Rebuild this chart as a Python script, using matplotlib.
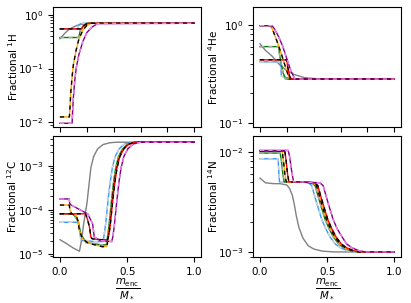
import matplotlib
matplotlib.use("Agg")
import matplotlib.pyplot as plt

plt.rcParams['font.family'] = ['DejaVu Sans']
plt.rcParams['font.size'] = 7.5

models = ["gray", "blue", "green", "orange", "red", "purple"]
solid_colors = ["grey", "#3399ff", "green", "orange", "red", "purple"]
dash_colors = [None, "lightgray", "darkgray", "black", "black", "violet"]

# ---------------- 1H ----------------
h1_x_gray = [0, 0.03, 0.06, 0.09, 0.12, 0.16, 0.2, 0.25, 1.0]
h1_y_gray = [0.36, 0.44, 0.52, 0.58, 0.63, 0.67, 0.69, 0.70, 0.70]
h1_x_blue = [0, 0.13, 0.135, 0.15, 0.17, 1.0]
h1_y_blue = [0.55, 0.55, 0.64, 0.68, 0.70, 0.70]
h1_x_green = [0, 0.14, 0.15, 0.17, 0.2, 1.0]
h1_y_green = [0.38, 0.38, 0.50, 0.62, 0.70, 0.70]
h1_x_orange = [0, 0.07, 0.075, 0.08, 0.09, 0.10, 0.12, 0.14, 0.17, 0.2, 0.23, 1.0]
h1_y_orange = [0.0125, 0.0125, 0.02, 0.035, 0.07, 0.12, 0.22, 0.35, 0.52, 0.64, 0.70, 0.70]
h1_x_red = [0, 0.16, 0.17, 0.19, 0.21, 1.0]
h1_y_red = [0.55, 0.55, 0.60, 0.67, 0.70, 0.70]
h1_x_purple = [0, 0.09, 0.095, 0.10, 0.11, 0.12, 0.14, 0.17, 0.2, 0.24, 0.28, 1.0]
h1_y_purple = [0.0095, 0.0095, 0.018, 0.03, 0.06, 0.1, 0.18, 0.32, 0.47, 0.6, 0.69, 0.70]

# ---------------- 4He ----------------
he_x_gray = [0, 0.04, 0.09, 0.14, 0.2, 0.26, 0.33, 0.45, 1.0]
he_y_gray = [0.64, 0.55, 0.48, 0.40, 0.34, 0.31, 0.29, 0.28, 0.28]
he_x_blue = [0, 0.15, 0.16, 0.2, 0.25, 1.0]
he_y_blue = [0.42, 0.42, 0.30, 0.29, 0.28, 0.28]
he_x_green = [0, 0.14, 0.145, 0.17, 0.19, 1.0]
he_y_green = [0.60, 0.60, 0.50, 0.33, 0.28, 0.28]
he_x_orange = [0, 0.08, 0.1, 0.13, 0.16, 0.19, 0.22, 1.0]
he_y_orange = [0.98, 0.98, 0.85, 0.66, 0.5, 0.37, 0.28, 0.28]
he_x_red = [0, 0.20, 0.205, 0.22, 0.23, 1.0]
he_y_red = [0.44, 0.44, 0.38, 0.30, 0.28, 0.28]
he_x_purple = [0, 0.09, 0.11, 0.14, 0.17, 0.2, 0.23, 0.26, 1.0]
he_y_purple = [0.98, 0.98, 0.90, 0.75, 0.6, 0.45, 0.34, 0.28, 0.28]

# ---------------- 12C ----------------
c_x_gray = [0, 0.05, 0.1, 0.145, 0.16, 0.175, 0.19, 0.2, 0.215, 0.23, 0.25, 0.28, 0.32, 0.37, 0.42, 1.0]
c_y_gray = [2.1e-5, 1.7e-5, 1.35e-5, 1.15e-5, 2.0e-5, 4.5e-5, 9e-5, 1.35e-4, 3.5e-4, 9e-4, 1.6e-3, 2.4e-3, 3.0e-3, 3.3e-3, 3.4e-3, 3.4e-3]
c_x_blue = [0, 0.14, 0.145, 0.155, 0.2, 0.25, 0.32, 0.33, 0.34, 0.35, 0.36, 0.375, 0.39, 0.41, 0.44, 0.48, 0.53, 1.0]
c_y_blue = [5.2e-5, 5.2e-5, 4.0e-5, 2.0e-5, 2.0e-5, 1.9e-5, 1.9e-5, 2.8e-5, 4.8e-5, 9.5e-5, 1.9e-4, 4.5e-4, 9e-4, 1.6e-3, 2.4e-3, 3.1e-3, 3.4e-3, 3.4e-3]
c_x_green = [0, 0.094, 0.11, 0.131, 0.156, 0.194, 0.25, 0.31, 0.345, 0.355, 0.365, 0.375, 0.385, 0.40, 0.415, 0.435, 0.465, 0.505, 0.555, 1.0]
c_y_green = [8.1e-5, 8.1e-5, 7.2e-5, 5.7e-5, 2.8e-5, 1.8e-5, 1.7e-5, 1.6e-5, 1.6e-5, 2.6e-5, 4.5e-5, 9e-5, 1.8e-4, 4.5e-4, 9e-4, 1.6e-3, 2.4e-3, 3.1e-3, 3.4e-3, 3.4e-3]
c_x_orange = [0, 0.069, 0.075, 0.087, 0.12, 0.135, 0.144, 0.168, 0.205, 0.26, 0.317, 0.35, 0.36, 0.37, 0.38, 0.39, 0.405, 0.42, 0.44, 0.47, 0.51, 0.56, 1.0]
c_y_orange = [1.28e-4, 1.28e-4, 9.5e-5, 8.1e-5, 7.4e-5, 5.5e-5, 3.4e-5, 2.2e-5, 1.8e-5, 1.6e-5, 1.45e-5, 1.5e-5, 2.6e-5, 4.5e-5, 9e-5, 1.8e-4, 4.5e-4, 9e-4, 1.6e-3, 2.4e-3, 3.1e-3, 3.4e-3, 3.4e-3]
c_x_red = [0, 0.19, 0.205, 0.22, 0.23, 0.24, 0.3, 0.355, 0.365, 0.375, 0.385, 0.395, 0.41, 0.425, 0.445, 0.475, 0.515, 0.565, 1.0]
c_y_red = [8.1e-5, 8.1e-5, 6e-5, 4e-5, 2.4e-5, 2.2e-5, 2.1e-5, 2.1e-5, 2.8e-5, 4.8e-5, 9.5e-5, 1.9e-4, 4.5e-4, 9e-4, 1.6e-3, 2.4e-3, 3.1e-3, 3.4e-3, 3.4e-3]
c_x_purple = [0, 0.069, 0.072, 0.082, 0.206, 0.243, 0.25, 0.255, 0.3, 0.385, 0.395, 0.405, 0.415, 0.425, 0.44, 0.455, 0.475, 0.505, 0.545, 0.6, 1.0]
c_y_purple = [1.76e-4, 1.76e-4, 1.4e-4, 1.28e-4, 8.1e-5, 4.8e-5, 3.2e-5, 2.4e-5, 2.0e-5, 1.9e-5, 2.6e-5, 4.5e-5, 9e-5, 1.8e-4, 4.5e-4, 9e-4, 1.6e-3, 2.4e-3, 3.1e-3, 3.4e-3, 3.4e-3]

# ---------------- 14N ----------------
n_x_gray = [0, 0.04, 0.1, 0.15, 0.2, 0.22, 0.24, 0.255, 0.27, 0.29, 0.32, 0.36, 0.4, 0.46, 0.55, 1.0]
n_y_gray = [5.45e-3, 4.9e-3, 4.8e-3, 4.8e-3, 4.65e-3, 4.3e-3, 3.7e-3, 3.0e-3, 2.3e-3, 1.75e-3, 1.37e-3, 1.15e-3, 1.07e-3, 1.02e-3, 1.0e-3, 1.0e-3]
n_x_blue = [0, 0.135, 0.14, 0.145, 0.3, 0.36, 0.385, 0.41, 0.435, 0.46, 0.49, 0.52, 0.56, 0.6, 0.65, 0.7, 1.0]
n_y_blue = [8.5e-3, 8.5e-3, 6.2e-3, 5.0e-3, 5.0e-3, 4.9e-3, 4.6e-3, 3.5e-3, 2.7e-3, 2.1e-3, 1.7e-3, 1.42e-3, 1.2e-3, 1.1e-3, 1.03e-3, 1.0e-3, 1.0e-3]
n_x_green = [0, 0.15, 0.16, 0.17, 0.18, 0.3, 0.385, 0.41, 0.435, 0.46, 0.485, 0.515, 0.545, 0.585, 0.625, 0.675, 0.725, 1.0]
n_y_green = [9.7e-3, 9.7e-3, 8.0e-3, 6.0e-3, 5.0e-3, 5.0e-3, 4.9e-3, 4.6e-3, 3.5e-3, 2.7e-3, 2.1e-3, 1.7e-3, 1.42e-3, 1.2e-3, 1.1e-3, 1.03e-3, 1.0e-3, 1.0e-3]
n_x_orange = [0, 0.165, 0.175, 0.185, 0.195, 0.3, 0.395, 0.42, 0.445, 0.47, 0.495, 0.525, 0.555, 0.595, 0.635, 0.685, 0.735, 1.0]
n_y_orange = [1.01e-2, 1.01e-2, 8.0e-3, 6.0e-3, 5.0e-3, 5.0e-3, 4.9e-3, 4.6e-3, 3.5e-3, 2.7e-3, 2.1e-3, 1.7e-3, 1.42e-3, 1.2e-3, 1.1e-3, 1.03e-3, 1.0e-3, 1.0e-3]
n_x_red = [0, 0.185, 0.195, 0.205, 0.215, 0.3, 0.405, 0.43, 0.455, 0.48, 0.505, 0.535, 0.565, 0.605, 0.645, 0.695, 0.745, 1.0]
n_y_red = [1.01e-2, 1.01e-2, 8.0e-3, 6.0e-3, 5.0e-3, 5.0e-3, 4.9e-3, 4.6e-3, 3.5e-3, 2.7e-3, 2.1e-3, 1.7e-3, 1.42e-3, 1.2e-3, 1.1e-3, 1.03e-3, 1.0e-3, 1.0e-3]
n_x_purple = [0, 0.21, 0.22, 0.235, 0.25, 0.3, 0.445, 0.47, 0.495, 0.52, 0.545, 0.575, 0.61, 0.645, 0.685, 0.735, 0.785, 1.0]
n_y_purple = [1.03e-2, 1.03e-2, 9.0e-3, 6.5e-3, 5.0e-3, 5.0e-3, 4.9e-3, 4.6e-3, 3.5e-3, 2.7e-3, 2.1e-3, 1.7e-3, 1.42e-3, 1.2e-3, 1.1e-3, 1.03e-3, 1.0e-3, 1.0e-3]

panels = [
    ("Fractional $^{1}$H", [(h1_x_gray, h1_y_gray), (h1_x_blue, h1_y_blue), (h1_x_green, h1_y_green),
                            (h1_x_orange, h1_y_orange), (h1_x_red, h1_y_red), (h1_x_purple, h1_y_purple)],
     (0.0081, 1.41)),
    ("Fractional $^{4}$He", [(he_x_gray, he_y_gray), (he_x_blue, he_y_blue), (he_x_green, he_y_green),
                             (he_x_orange, he_y_orange), (he_x_red, he_y_red), (he_x_purple, he_y_purple)],
     (0.091, 1.52)),
    ("Fractional $^{12}$C", [(c_x_gray, c_y_gray), (c_x_blue, c_y_blue), (c_x_green, c_y_green),
                             (c_x_orange, c_y_orange), (c_x_red, c_y_red), (c_x_purple, c_y_purple)],
     (8.5e-6, 4.7e-3)),
    ("Fractional $^{14}$N", [(n_x_gray, n_y_gray), (n_x_blue, n_y_blue), (n_x_green, n_y_green),
                             (n_x_orange, n_y_orange), (n_x_red, n_y_red), (n_x_purple, n_y_purple)],
     (8.9e-4, 1.435e-2)),
]

W, H = 411, 303
fig = plt.figure(figsize=(W / 100, H / 100), dpi=100)
rects = [
    (53.3 / W, 1 - 127 / H, 147.7 / W, 120 / H),
    (253.3 / W, 1 - 127 / H, 147.7 / W, 120 / H),
    (53.3 / W, 1 - 257 / H, 147.7 / W, 121 / H),
    (253.3 / W, 1 - 257 / H, 147.7 / W, 121 / H),
]

for i, (label, series, ylim) in enumerate(panels):
    ax = fig.add_axes(rects[i])
    for (xs, ys), sc, dc in zip(series, solid_colors, dash_colors):
        ax.plot(xs, ys, color=sc, lw=1.0)
        if dc is not None:
            ax.plot(xs, ys, color=dc, lw=1.0, ls=(0, (3, 3)))
    ax.set_yscale('log')
    ax.set_ylim(*ylim)
    ax.set_xlim(-0.05, 1.05)
    ax.set_ylabel(label, labelpad=-1)
    if i < 2:
        ax.set_xticks([0, 0.2, 0.4, 0.6, 0.8, 1.0])
        ax.set_xticklabels([])
    else:
        ax.set_xticks([0, 0.5, 1.0])
        ax.set_xticklabels(["0.0", "0.5", "1.0"])
        ax.set_xlabel(r"$\frac{m_{\rm enc}}{M_*}$", fontsize=10.5, labelpad=0)

fig.savefig("out.png", dpi=100)
